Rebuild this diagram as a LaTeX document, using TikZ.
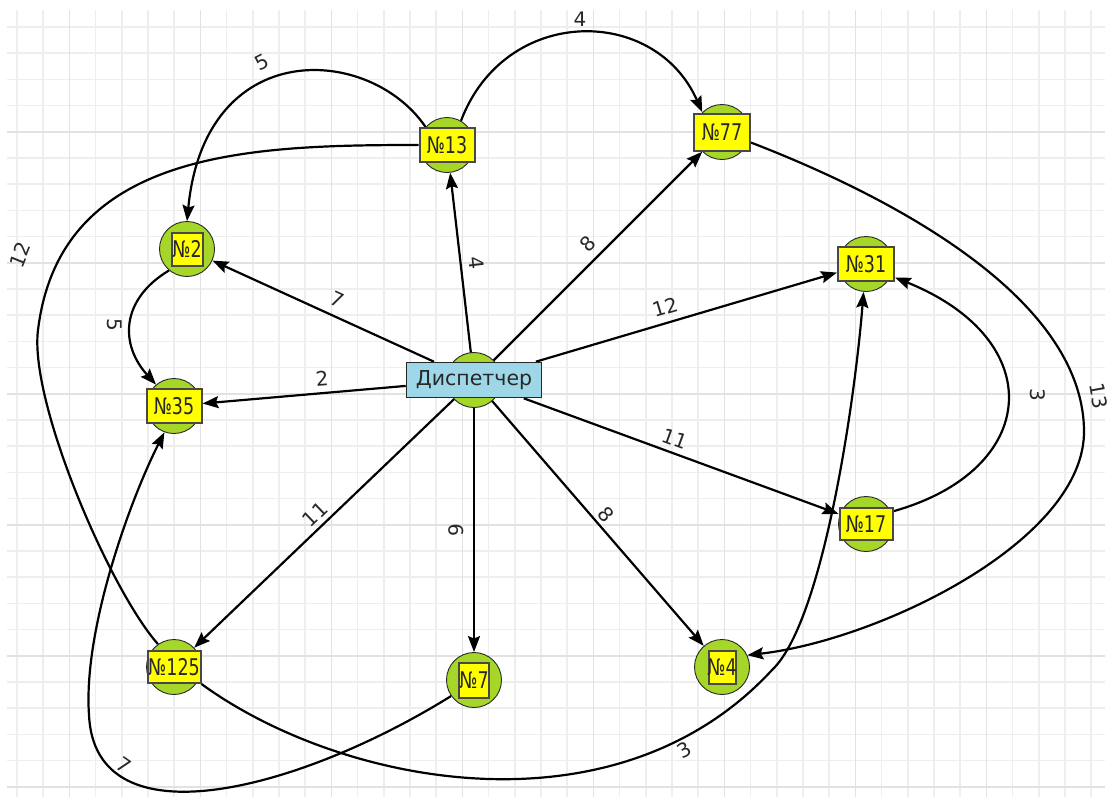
\documentclass[tikz,border=0pt]{standalone}
\usepackage{fontspec}
\setmainfont{DejaVu Sans}
\usepackage{graphicx}
\usetikzlibrary{arrows.meta}
\pgfdeclarelayer{gridlayer}
\pgfdeclarelayer{edgelayer}
\pgfsetlayers{gridlayer,edgelayer,main}
\definecolor{gridminor}{RGB}{238,238,238}
\definecolor{gridmajor}{RGB}{226,226,226}
\definecolor{dotgreen}{RGB}{166,214,40}
\definecolor{boxyellow}{RGB}{255,255,0}
\definecolor{dispblue}{RGB}{158,216,232}
\definecolor{inkgray}{RGB}{40,40,40}
\newcommand{\numtag}[1]{\makebox[0pt]{\scalebox{0.76}[1]{#1}}}
\tikzset{
  dot/.style={circle, draw=inkgray, line width=0.9pt, fill=dotgreen, minimum size=55pt, inner sep=0pt},
  tag/.style={rectangle, draw=inkgray!85, line width=2pt, fill=boxyellow, inner sep=0pt, text=inkgray, font=\fontsize{23}{23}\selectfont},
  disp/.style={rectangle, draw=inkgray, line width=1.6pt, fill=dispblue, inner sep=0pt, minimum width=135pt, minimum height=35pt, text=inkgray, font=\fontsize{20.5}{20.5}\selectfont},
  edge/.style={line width=2.2pt, black},
  arr/.style={edge, -{Stealth[length=16pt,width=12pt,inset=2.5pt]}},
  wlabel/.style={text=inkgray, font=\fontsize{20}{20}\selectfont, inner sep=0pt},
}
\begin{document}
\begin{tikzpicture}[x=1pt,y=-1pt]
\useasboundingbox (0,0) rectangle (1113,801);
\begin{pgfonlayer}{gridlayer}
\fill[white] (0,0) rectangle (1113,801);
\foreach \k in {0,...,41} {\pgfmathsetmacro\xx{17+26.2*\k}\draw[gridminor, line width=1.6pt] (\xx,10) -- (\xx,797);}
\foreach \k in {0,...,29} {\pgfmathsetmacro\yy{27+26.2*\k}\draw[gridminor, line width=1.6pt] (7,\yy) -- (1105,\yy);}
\foreach \k in {0,...,7} {\pgfmathsetmacro\xx{69.4+131*\k}\draw[gridmajor, line width=1.6pt] (\xx,10) -- (\xx,797);}
\foreach \k in {0,...,5} {\pgfmathsetmacro\yy{131.8+131*\k}\draw[gridmajor, line width=1.6pt] (7,\yy) -- (1105,\yy);}
\end{pgfonlayer}

% nodes: circle + box
\node[dot] (dc) at (474,380) {};
\node[disp] (d) at (474,380) {Диспетчер};
\node[dot] (n13c) at (447,145) {};
\node[tag, minimum width=55pt, minimum height=34pt] (n13) at (447,145) {\numtag{№13}};
\node[dot] (n2c) at (187,249) {};
\node[tag, minimum width=31pt, minimum height=33pt] (n2) at (187,249) {\numtag{№2}};
\node[dot] (n35c) at (174,406) {};
\node[tag, minimum width=55pt, minimum height=34pt] (n35) at (174,406) {\numtag{№35}};
\node[dot] (n77c) at (722,132) {};
\node[tag, minimum width=56pt, minimum height=37pt] (n77) at (722,132) {\numtag{№77}};
\node[dot] (n31c) at (866,264) {};
\node[tag, minimum width=56pt, minimum height=34pt] (n31) at (866,264) {\numtag{№31}};
\node[dot] (n17c) at (866,524) {};
\node[tag, minimum width=53pt, minimum height=32pt] (n17) at (866,524) {\numtag{№17}};
\node[dot] (n125c) at (174,667) {};
\node[tag, minimum width=53pt, minimum height=32pt] (n125) at (174,667) {\numtag{№125}};
\node[dot] (n7c) at (474,680) {};
\node[tag, minimum width=30pt, minimum height=35pt] (n7) at (474,680) {\numtag{№7}};
\node[dot] (n4c) at (722,667) {};
\node[tag, minimum width=27pt, minimum height=33pt] (n4) at (722,667) {\numtag{№4}};

\coordinate (w12) at (38,330);
\coordinate (w14) at (1084,430);
\coordinate (w16) at (89,715);
\coordinate (w17) at (772,670);

\begin{pgfonlayer}{edgelayer}
% straight edges from the dispatcher
\draw[arr] (d) -- (n13c);
\draw[arr] (d) -- (n2c);
\draw[arr] (d) -- (n35);
\draw[arr] (d) -- (n125c);
\draw[arr] (d) -- (n7c);
\draw[arr] (d) -- (n4c);
\draw[arr] (d) -- (n17);
\draw[arr] (d) -- (n31);
\draw[arr] (d) -- (n77c);
% curved edges
\draw[arr] (n13c.140) .. controls (370,45) and (205,35) .. (n2c.north);
\draw[arr] (n13c.60) .. controls (505,5) and (655,5) .. (n77c.135);
\draw[edge] (n13.west) .. controls (250,145) and (60,150) .. (w12) .. controls (29,402) and (110,590) .. (n125c.125);
\draw[arr] (n2c.230) .. controls (120,300) and (120,345) .. (n35c.130);
\draw[arr] (n77.-20) .. controls (900,200) and (1082,300) .. (w14) .. controls (1086,540) and (880,640) .. (n4c.25);
\draw[arr] (n17.25) .. controls (1040,470) and (1050,340) .. (n31.-25);
\draw[arr] (n7c.215) .. controls (300,790) and (95,845) .. (w16) .. controls (83,630) and (130,500) .. (n35c.250);
\draw[arr] (n125.south east) .. controls (340,785) and (615,840) .. (w17) .. controls (823,622) and (855,400) .. (n31c.265);
\end{pgfonlayer}

% edge weights
\node[wlabel, rotate=27] (l1) at (262,62) {5};
\node[wlabel] (l2) at (580,19) {4};
\node[wlabel, rotate=68] (l3) at (20,255) {12};
\node[wlabel, rotate=-90] (l4) at (115,325) {5};
\node[wlabel, rotate=-83.5] (l5) at (476,263) {4};
\node[wlabel, rotate=-24.5] (l6) at (337,299) {7};
\node[wlabel, rotate=5] (l7) at (322,379) {2};
\node[wlabel, rotate=43.7] (l8) at (315,514) {11};
\node[wlabel, rotate=90] (l9) at (456,530) {9};
\node[wlabel, rotate=-49] (l10) at (606,515) {8};
\node[wlabel, rotate=-20] (l11) at (675,439) {11};
\node[wlabel, rotate=16.5] (l12) at (665,307) {12};
\node[wlabel, rotate=45] (l13) at (588,244) {8};
\node[wlabel, rotate=-80] (l14) at (1099,396) {13};
\node[wlabel, rotate=-90] (l15) at (1038,395) {3};
\node[wlabel, rotate=-35] (l16) at (124,765) {7};
\node[wlabel, rotate=30] (l17) at (684,750) {3};
\end{tikzpicture}
\end{document}
